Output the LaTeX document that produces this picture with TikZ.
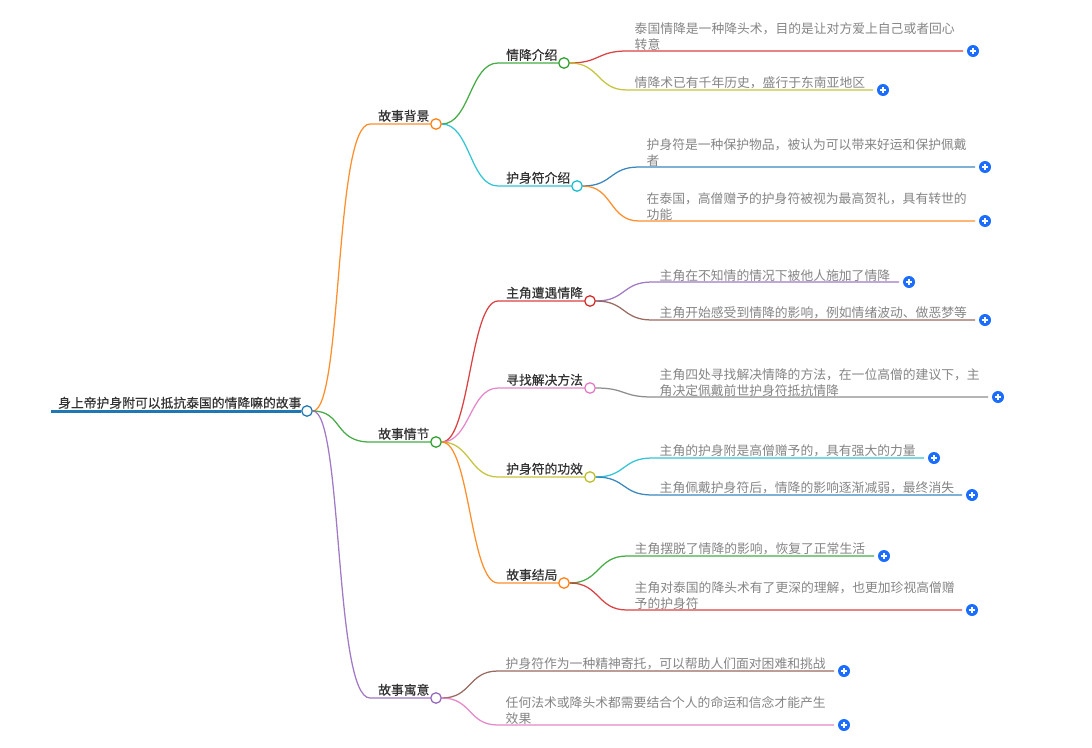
\documentclass[tikz,border=0pt]{standalone}
\usepackage{fontspec}
\setmainfont{Noto Sans CJK SC}
\newfontfamily\medfont[FakeBold=0.4]{Noto Sans CJK SC}
\definecolor{cOrange}{HTML}{FF7F0E}
\definecolor{cGreen}{HTML}{2CA02C}
\definecolor{cPurple}{HTML}{9467BD}
\definecolor{cRed}{HTML}{D62728}
\definecolor{cOlive}{HTML}{BCBD22}
\definecolor{cCyan}{HTML}{17BECF}
\definecolor{cBlue}{HTML}{1F77B4}
\definecolor{cBrown}{HTML}{8C564B}
\definecolor{cPink}{HTML}{E377C2}
\definecolor{cGray}{HTML}{7F7F7F}
\definecolor{btn}{HTML}{1A6DFF}
\tikzset{
 x=1pt,y=-1pt,
 conn/.style={line width=1.25pt,draw opacity=.88},
 dotn/.style={circle,draw=#1,fill=white,line width=1.25pt,minimum size=10.5pt,inner sep=0pt},
 lbl/.style={anchor=south west,inner sep=0pt,font=\medfont\fontsize{12.8}{16}\selectfont,text=black!80,yshift=2pt},
 leaf/.style={anchor=south west,inner sep=0pt,align=left,font=\fontsize{12.8}{16}\selectfont,text=black!48,xshift=-0.5pt,yshift=0.5pt},
 plusbtn/.style={circle,fill=btn,minimum size=12pt,inner sep=0pt,path picture={
   \draw[white,line width=1.2pt] ([xshift=-3.2pt]path picture bounding box.center) -- ([xshift=3.2pt]path picture bounding box.center);
   \draw[white,line width=1.2pt] ([yshift=-3.2pt]path picture bounding box.center) -- ([yshift=3.2pt]path picture bounding box.center);}}
}
% \leafitem{id}{color}{parent}{startx}{endx}{y}{text}
\newcommand{\leafitem}[7]{%
 \coordinate (s#1) at (#4,#6);
 \coordinate (e#1) at (#5,#6);
 \node[plusbtn] (p#1) at (#5+10,#6) {};
 \draw[conn,#2] (#3.east) .. controls +(30,0) and +(-30,0) .. (s#1) -- (e#1);
 \node[leaf] (t#1) at (#4+8,#6) {#7};
}
\begin{document}
\begin{tikzpicture}
\useasboundingbox (0,0) rectangle (1092,747);
\fill[white] (0,0) rectangle (1092,747);
% root
\coordinate (r0) at (51,411);
\node[dotn=cBlue] (root) at (307,411) {};
% level 1 anchors
\coordinate (a1) at (370,124); \node[dotn=cOrange] (A) at (436,124) {};
\coordinate (a2) at (370,442); \node[dotn=cGreen] (B) at (436,442) {};
\coordinate (a3) at (370,698); \node[dotn=cPurple] (C) at (436,698) {};
\draw[conn,cOrange] (root.east) .. controls +(30,0) and +(-36,0) .. (a1) -- (A);
\draw[conn,cGreen] (root.east) .. controls +(30,0) and +(-36,0) .. (a2) -- (B);
\draw[conn,cPurple] (root.east) .. controls +(30,0) and +(-36,0) .. (a3) -- (C);
\draw[line width=3pt,cBlue] (r0) -- (root);
\node[lbl] (troot) at (58,411) {身上帝护身附可以抵抗泰国的情降嘛的故事};
\node[lbl] (tA) at (378,124) {故事背景};
\node[lbl] (tB) at (378,442) {故事情节};
\node[lbl] (tC) at (378,698) {故事寓意};
% level 2
\coordinate (b1) at (498,63);  \node[dotn=cGreen]  (A1) at (564,63) {};
\coordinate (b2) at (498,186); \node[dotn=cCyan]   (A2) at (577,186) {};
\coordinate (b3) at (498,301); \node[dotn=cRed]    (B1) at (590,301) {};
\coordinate (b4) at (498,388); \node[dotn=cPink]   (B2) at (590,388) {};
\coordinate (b5) at (498,477); \node[dotn=cOlive]  (B3) at (590,477) {};
\coordinate (b6) at (498,583); \node[dotn=cOrange] (B4) at (564,583) {};
\draw[conn,cGreen] (A.east) .. controls +(28,0) and +(-28,0) .. (b1) -- (A1);
\draw[conn,cCyan] (A.east) .. controls +(28,0) and +(-28,0) .. (b2) -- (A2);
\draw[conn,cRed] (B.east) .. controls +(28,0) and +(-28,0) .. (b3) -- (B1);
\draw[conn,cPink] (B.east) .. controls +(28,0) and +(-28,0) .. (b4) -- (B2);
\draw[conn,cOlive] (B.east) .. controls +(28,0) and +(-28,0) .. (b5) -- (B3);
\draw[conn,cOrange] (B.east) .. controls +(28,0) and +(-28,0) .. (b6) -- (B4);
\node[lbl] (tA1) at (506,63) {情降介绍};
\node[lbl] (tA2) at (506,186) {护身符介绍};
\node[lbl] (tB1) at (506,301) {主角遭遇情降};
\node[lbl] (tB2) at (506,388) {寻找解决方法};
\node[lbl] (tB3) at (506,477) {护身符的功效};
\node[lbl] (tB4) at (506,583) {故事结局};
% leaves
\leafitem{1}{cRed}{A1}{627}{963}{51}{泰国情降是一种降头术，目的是让对方爱上自己或者回心\\转意}
\leafitem{2}{cOlive}{A1}{627}{873}{90}{情降术已有千年历史，盛行于东南亚地区}
\leafitem{3}{cBlue}{A2}{639}{975}{167}{护身符是一种保护物品，被认为可以带来好运和保护佩戴\\者}
\leafitem{4}{cOrange}{A2}{639}{975}{221}{在泰国，高僧赠予的护身符被视为最高贺礼，具有转世的\\功能}
\leafitem{5}{cPurple}{B1}{652}{899}{282}{主角在不知情的情况下被他人施加了情降}
\leafitem{6}{cBrown}{B1}{652}{975}{320}{主角开始感受到情降的影响，例如情绪波动、做恶梦等}
\leafitem{7}{cGray}{B2}{652}{988}{397}{主角四处寻找解决情降的方法，在一位高僧的建议下，主\\角决定佩戴前世护身符抵抗情降}
\leafitem{8}{cCyan}{B3}{652}{924}{458}{主角的护身附是高僧赠予的，具有强大的力量}
\leafitem{9}{cBlue}{B3}{652}{962}{495}{主角佩戴护身符后，情降的影响逐渐减弱，最终消失}
\leafitem{10}{cGreen}{B4}{627}{874}{556}{主角摆脱了情降的影响，恢复了正常生活}
\leafitem{11}{cRed}{B4}{627}{962}{610}{主角对泰国的降头术有了更深的理解，也更加珍视高僧赠\\予的护身符}
\leafitem{12}{cBrown}{C}{498}{834}{671}{护身符作为一种精神寄托，可以帮助人们面对困难和挑战}
\leafitem{13}{cPink}{C}{498}{834}{725}{任何法术或降头术都需要结合个人的命运和信念才能产生\\效果}
\end{tikzpicture}
\end{document}
